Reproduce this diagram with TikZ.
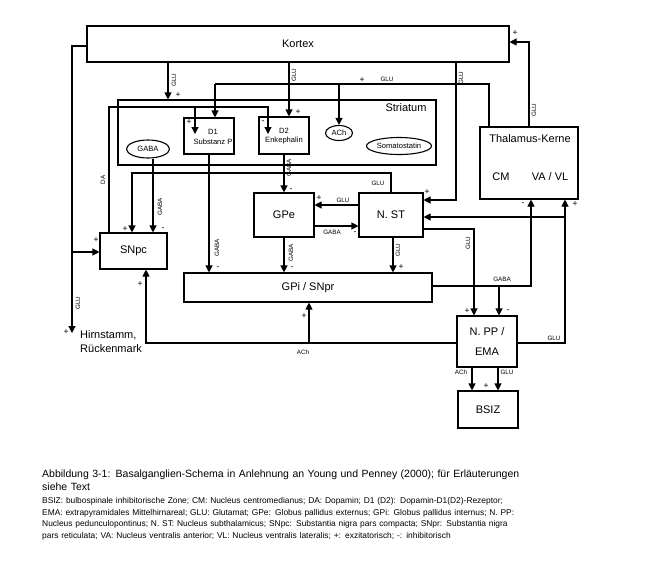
\documentclass[tikz,border=0pt]{standalone}
\usepackage{fontspec}
\setmainfont{Liberation Sans}
\usepackage{tikz}
\usetikzlibrary{arrows.meta, shapes.geometric, positioning, calc}

\begin{document}
\begin{tikzpicture}[x=1pt, y=-1pt,
    box/.style={draw, line width=1.1pt, inner sep=0pt, font=\fontsize{11}{13}\selectfont},
    oval/.style={draw, ellipse, line width=1.1pt, inner sep=0pt, font=\fontsize{7.6}{9}\selectfont},
    con/.style={line width=1.1pt},
    arr/.style={line width=1.1pt, -{Triangle[width=7pt, length=7pt]}},
    tag/.style={inner sep=0pt, font=\fontsize{6.3}{7}\selectfont},
    sign/.style={inner sep=0pt, font=\fontsize{8.5}{9}\selectfont}]
        \useasboundingbox (0,0) rectangle (647,566);

        % --- BOXES ---
        \node[box, minimum width=422pt, minimum height=36pt] (kortex) at (298,44) {Kortex};
        \node[box, minimum width=318pt, minimum height=65pt] (striatum) at (277,132.5) {};
        \node[inner sep=0pt, font=\fontsize{11}{13}\selectfont] (striatumtext) at (406,108) {Striatum};
        \node[box, minimum width=50pt, minimum height=36pt] (d1) at (209,136) {};
        \node[inner sep=0pt, align=center, font=\fontsize{7.6}{9.5}\selectfont] (d1text) at (213,137) {D1\\Substanz P};
        \node[box, minimum width=50pt, minimum height=37pt] (d2) at (284,135.5) {};
        \node[inner sep=0pt, align=center, font=\fontsize{7.6}{9.5}\selectfont] (d2text) at (284,136) {D2\\Enkephalin};
        \node[oval, minimum width=43pt, minimum height=18pt] (gaba) at (148,149) {GABA};
        \node[oval, minimum width=27pt, minimum height=15pt] (ach) at (339,133) {ACh};
        \node[oval, minimum width=65pt, minimum height=17pt] (soma) at (399,146) {Somatostatin};

        \node[box, minimum width=67pt, minimum height=36pt] (snpc) at (133.5,251) {SNpc};
        \node[box, minimum width=60pt, minimum height=44pt] (gpe) at (284,215) {GPe};
        \node[box, minimum width=64pt, minimum height=44pt] (nst) at (391,215) {N. ST};
        \node[box, minimum width=248pt, minimum height=29pt] (gpi) at (308,287.5) {GPi / SNpr};
        \node[box, minimum width=98pt, minimum height=72pt] (thal) at (529,163) {};
        \node[inner sep=0pt, font=\fontsize{11}{13}\selectfont] (thaltext) at (530,139) {Thalamus-Kerne};
        \node[inner sep=0pt, font=\fontsize{11}{13}\selectfont] (cm) at (501,177) {CM};
        \node[inner sep=0pt, font=\fontsize{11}{13}\selectfont] (vavl) at (550,177) {VA / VL};
        \node[box, minimum width=60pt, minimum height=51pt, align=center] (npp) at (487,341.5) {N. PP /\\[7pt]EMA};
        \node[box, minimum width=60pt, minimum height=37pt] (bsiz) at (488,409.5) {BSIZ};
        \node[anchor=north west, inner sep=0pt, align=left, font=\fontsize{11}{14}\selectfont] (hirntext) at (80,330) {Hirnstamm,\\Rückenmark};

        % --- COORDINATES ---
        \coordinate (xks) at (168,0);     % Kortex -> Striatum
        \coordinate (xkd) at (289,0);     % Kortex -> D2
        \coordinate (kn) at (456,200);    % Kortex -> N. ST
        \coordinate (tk) at (529,42);     % Thalamus -> Kortex
        \coordinate (ts) at (489,84);     % Thalamus -> Striatum
        \coordinate (tsd) at (215,84);
        \coordinate (da) at (109,107);    % DA
        \coordinate (dad1) at (195,134);
        \coordinate (dad2) at (268,134);
        \coordinate (xgs) at (153,0);     % GABA -> SNpc
        \coordinate (ns) at (391,173);    % N. ST -> SNpc
        \coordinate (nss) at (132,173);
        \coordinate (ng) at (0,205);
        \coordinate (gn) at (0,226);
        \coordinate (xns) at (393,0);
        \coordinate (gt) at (531,286);    % GPi -> Thalamus
        \coordinate (gnp) at (499,286);
        \coordinate (nn) at (474,229);    % N. ST -> N. PP
        \coordinate (ns2) at (146,343);   % N. PP -> SNpc
        \coordinate (ng2) at (309,343);
        \coordinate (nt) at (565,343);    % N. PP -> Thalamus
        \coordinate (ntn) at (565,217);
        \coordinate (nb1) at (472,0);     % N. PP -> BSIZ
        \coordinate (nb2) at (498,0);
        \coordinate (kh) at (72,46);      % Kortex -> Hirnstamm
        \coordinate (khs) at (72,252);
        \coordinate (hirn) at (72,333);

        % --- KORTEX ---
        \draw[arr] (kortex.south -| xks) -- (striatum.north -| xks);
        \node[tag, rotate=90] at (174,80) {GLU};
        \node[sign] at (178,95) {+};
        \draw[arr] (kortex.south -| xkd) -- (d2.north -| xkd);
        \node[tag, rotate=90] at (294,75) {GLU};
        \node[sign] at (298,112) {+};
        \draw[arr] (kortex.south -| kn) -- (kn) -- (nst.east |- kn);
        \node[tag, rotate=90] at (461,78) {GLU};
        \node[sign] at (427,192) {+};
        \draw[arr] (kortex.west |- kh) -- (kh) -- (hirn);
        \draw[arr] (khs) -- (snpc.west |- khs);
        \node[tag, rotate=90] at (78,303) {GLU};
        \node[sign] at (66,332) {+};
        \node[sign] at (96,240) {+};

        % --- THALAMUS ---
        \draw[arr] (thal.north -| tk) -- (tk) -- (kortex.east |- tk);
        \node[tag, rotate=90] at (534,110) {GLU};
        \node[sign] at (515,33) {+};
        \draw[con] (thal.north -| ts) -- (ts) -- (tsd);
        \draw[arr] (tsd) -- (d1.north -| tsd);
        \draw[arr] (ach.north |- ts) -- (ach.north);
        \node[sign] at (362,80) {+};
        \node[tag] at (387,79) {GLU};

        % --- STRIATUM ---
        \draw[arr] (snpc.north -| da) -- (da) -- (da -| dad2) -- (dad2);
        \draw[arr] (da -| dad1) -- (dad1);
        \node[tag, rotate=90] at (103,180) {DA};
        \node[sign] at (189,122) {+};
        \node[sign] at (263,122) {-};
        \draw[arr] (gaba.south -| xgs) -- (snpc.north -| xgs);
        \node[tag, rotate=90] at (160,207) {GABA};
        \node[sign] at (163,229) {-};
        \draw[arr] (d1.south) -- (gpi.north -| d1.south);
        \node[tag, rotate=90] at (217,248) {GABA};
        \node[sign] at (218,268) {-};
        \draw[arr] (d2.south) -- (gpe.north);
        \node[tag, rotate=90] at (289,168) {GABA};
        \node[sign] at (291,190) {-};

        % --- GPe / N. ST ---
        \draw[arr] (nst.north) -- (ns) -- (nss) -- (snpc.north -| nss);
        \node[tag] at (378,183) {GLU};
        \node[sign] at (125,229) {+};
        \draw[arr] (nst.west |- ng) -- (gpe.east |- ng);
        \node[tag] at (343,200) {GLU};
        \node[sign] at (319,198) {+};
        \draw[arr] (gpe.east |- gn) -- (nst.west |- gn);
        \node[tag] at (332,232) {GABA};
        \node[sign] at (355,233) {-};
        \draw[arr] (gpe.south) -- (gpi.north -| gpe.south);
        \node[tag, rotate=90] at (291,253) {GABA};
        \node[sign] at (292,268) {-};
        \draw[arr] (nst.south -| xns) -- (gpi.north -| xns);
        \node[tag, rotate=90] at (398,250) {GLU};
        \node[sign] at (401,267) {+};
        \draw[arr] (nst.east |- nn) -- (nn) -- (npp.north -| nn);
        \node[tag, rotate=90] at (468,243) {GLU};
        \node[sign] at (467,311) {+};

        % --- GPi / SNpr ---
        \draw[arr] (gpi.east |- gt) -- (gt) -- (thal.south -| gt);
        \draw[arr] (gnp) -- (npp.north -| gnp);
        \node[tag] at (502,279) {GABA};
        \node[sign] at (508,311) {-};
        \node[sign] at (523,204) {-};

        % --- N. PP / EMA ---
        \draw[arr] (npp.west |- ns2) -- (ns2) -- (snpc.south -| ns2);
        \draw[arr] (ng2) -- (gpi.south -| ng2);
        \node[tag] at (303,352) {ACh};
        \node[sign] at (140,284) {+};
        \node[sign] at (304,316) {+};
        \draw[arr] (npp.east |- nt) -- (nt) -- (thal.south -| nt);
        \draw[arr] (ntn) -- (nst.east |- ntn);
        \node[tag] at (554,338) {GLU};
        \node[sign] at (575,204) {+};
        \draw[arr] (npp.south -| nb1) -- (bsiz.north -| nb1);
        \draw[arr] (npp.south -| nb2) -- (bsiz.north -| nb2);
        \node[tag] at (461,372) {ACh};
        \node[tag] at (507,372) {GLU};
        \node[sign] at (486,386) {+};

        % --- CAPTION ---
        \node[anchor=north west, inner sep=0pt, text width=492pt, align=left, font=\fontsize{10.5}{13}\selectfont] (title) at (42,470) {%
            \makebox[489pt][s]{Abbildung 3-1: Basalganglien-Schema in Anlehnung an Young und Penney (2000); für Erläuterungen}\\
            siehe Text};
        \node[anchor=north west, inner sep=0pt, text width=492pt, align=left, font=\fontsize{8.4}{11.7}\selectfont] (legend) at (42,497) {%
            \makebox[492pt][s]{BSIZ: bulbospinale inhibitorische Zone; CM: Nucleus centromedianus; DA: Dopamin; D1 (D2): Dopamin-D1(D2)-Rezeptor;}\\
            \makebox[492pt][s]{EMA: extrapyramidales Mittelhirnareal; GLU: Glutamat; GPe: Globus pallidus externus; GPi: Globus pallidus internus; N. PP:}\\
            \makebox[492pt][s]{Nucleus pedunculopontinus; N. ST: Nucleus subthalamicus; SNpc: Substantia nigra pars compacta; SNpr: Substantia nigra}\\
            pars reticulata; VA: Nucleus ventralis anterior; VL: Nucleus ventralis lateralis; +: exzitatorisch; -: inhibitorisch};

    \end{tikzpicture}
\end{document}
